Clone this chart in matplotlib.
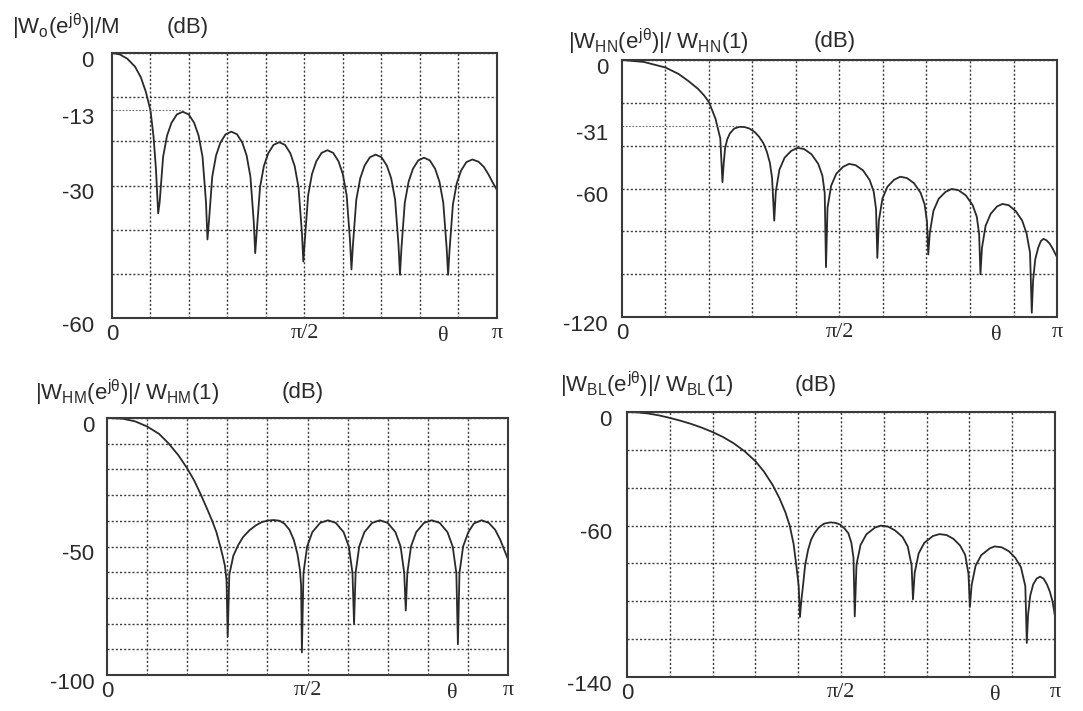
import numpy as np
import matplotlib
matplotlib.use('Agg')
import matplotlib.pyplot as plt
from matplotlib.transforms import ScaledTranslation

plt.rcParams['font.family'] = ['Liberation Sans', 'DejaVu Sans']
plt.rcParams['mathtext.fontset'] = 'custom'
plt.rcParams['mathtext.rm'] = 'Liberation Sans'
plt.rcParams['mathtext.it'] = 'Liberation Sans'

# theta in units of pi, magnitude in dB
rect_theta = [0, 0.02, 0.04, 0.06, 0.075, 0.088, 0.1, 0.108, 0.114, 0.12,
              0.1238, 0.1328, 0.143, 0.1546, 0.1686, 0.184, 0.1994, 0.2134, 0.225, 0.2352, 0.2442, 0.248,
              0.2517, 0.2604, 0.2703, 0.2815, 0.2951, 0.310, 0.3249, 0.3385, 0.3497, 0.3596, 0.3683, 0.372,
              0.3758, 0.3845, 0.3945, 0.4058, 0.4195, 0.4345, 0.4495, 0.4633, 0.4745, 0.4845, 0.4933, 0.497,
              0.5008, 0.5095, 0.5195, 0.5308, 0.5445, 0.5595, 0.5745, 0.5883, 0.5995, 0.6095, 0.6183, 0.622,
              0.6258, 0.6346, 0.6447, 0.656, 0.6699, 0.685, 0.7001, 0.714, 0.7253, 0.7354, 0.7442, 0.748,
              0.7518, 0.7605, 0.7705, 0.7818, 0.7955, 0.8105, 0.8255, 0.8393, 0.8505, 0.8605, 0.8693, 0.873,
              0.8768, 0.8855, 0.8955, 0.9068, 0.9205, 0.936, 0.952, 0.966, 0.978, 0.99, 1.0]
rect_db = [0, -0.3, -1.3, -3.1, -5.5, -8.8, -13.0, -19.0, -26.0, -36.3,
           -33.8, -23.5, -18.7, -15.8, -13.9, -13.3, -13.9, -15.8, -18.7, -23.5, -33.8, -42.2,
           -38.3, -28.0, -23.2, -20.3, -18.4, -17.8, -18.4, -20.3, -23.2, -28.0, -38.3, -45.3,
           -40.7, -30.4, -25.6, -22.7, -20.8, -20.2, -20.8, -22.7, -25.6, -30.4, -40.7, -47.2,
           -42.5, -32.2, -27.4, -24.5, -22.6, -22.0, -22.6, -24.5, -27.4, -32.2, -42.5, -49.0,
           -43.5, -33.2, -28.4, -25.5, -23.6, -23.0, -23.6, -25.5, -28.4, -33.2, -43.5, -50.2,
           -44.2, -33.9, -29.1, -26.2, -24.3, -23.7, -24.3, -26.2, -29.1, -33.9, -44.2, -50.2,
           -44.6, -34.3, -29.5, -26.6, -24.7, -24.1, -24.6, -25.8, -27.5, -29.5, -31.0]

hann_theta = [0, 0.05, 0.1, 0.13, 0.152, 0.175, 0.189, 0.2, 0.215, 0.226, 0.231,
              0.234, 0.237, 0.242, 0.248, 0.258, 0.270, 0.282, 0.293, 0.305, 0.315, 0.325, 0.333, 0.340, 0.345, 0.350,
              0.3536, 0.3619, 0.3738, 0.3893, 0.4036, 0.419, 0.4357, 0.4512, 0.4607, 0.466, 0.469,
              0.4725, 0.4808, 0.4926, 0.508, 0.522, 0.537, 0.554, 0.5693, 0.5787, 0.584, 0.587,
              0.5905, 0.5987, 0.6104, 0.6256, 0.6397, 0.6549, 0.6712, 0.6865, 0.6958, 0.7011, 0.704,
              0.7076, 0.716, 0.728, 0.7436, 0.758, 0.7736, 0.7904, 0.806, 0.8156, 0.821, 0.824,
              0.8275, 0.8358, 0.8476, 0.862, 0.8745, 0.889, 0.905, 0.920, 0.930, 0.938, 0.942,
              0.945, 0.950, 0.957, 0.963, 0.969, 0.976, 0.983, 0.990, 0.996, 1.0]
hann_db = [0, -0.9, -3.5, -6.5, -9.7, -13.5, -16.6, -19.7, -27.4, -36.6, -57.0,
           -48, -41.2, -37, -34.3, -32, -31.2, -31.3, -32.0, -33.6, -35.8, -38.8, -42.8, -48, -55, -75,
           -61.5, -51.2, -45.6, -42.4, -41.0, -41.6, -44.0, -48.5, -54, -62, -96.7,
           -69, -58.7, -53.1, -49.9, -48.5, -49.1, -51.5, -56, -61.5, -69.5, -92.4,
           -75, -64.7, -59.1, -55.9, -54.5, -55.1, -57.5, -62, -67.5, -75.5, -90.8,
           -80.7, -70.4, -64.8, -61.6, -60.2, -60.8, -63.2, -67.7, -73.2, -81.2, -100,
           -87.7, -77.4, -71.8, -68.4, -67.2, -67.8, -70.5, -75, -81, -90, -118,
           -103, -93, -87.5, -84.5, -83.5, -84.2, -85.7, -88, -90.5, -92]

hamm_theta = [0, 0.04, 0.07, 0.1, 0.13, 0.153, 0.178, 0.2, 0.218, 0.234, 0.25, 0.262, 0.273, 0.282, 0.289, 0.294, 0.298, 0.301,
              0.305, 0.315, 0.327, 0.339, 0.355, 0.371, 0.386, 0.401, 0.416, 0.431, 0.443, 0.455, 0.466, 0.475, 0.481, 0.484, 0.486,
              0.4899, 0.499, 0.512, 0.5315, 0.551, 0.5705, 0.590, 0.603, 0.6121, 0.616,
              0.6199, 0.6289, 0.6418, 0.6612, 0.6805, 0.6999, 0.7192, 0.7321, 0.7411, 0.745,
              0.7489, 0.758, 0.771, 0.7905, 0.810, 0.8295, 0.849, 0.862, 0.8711, 0.875,
              0.8789, 0.888, 0.901, 0.915, 0.934, 0.952, 0.968, 0.981, 0.991, 1.0]
hamm_db = [0, -0.3, -1.3, -3.3, -6.2, -9.8, -14.5, -19.6, -24.5, -29.8, -35.5, -39.9, -44.5, -49.7, -54, -57.5, -63, -85,
           -61, -53.6, -49.5, -46.4, -43.7, -41.8, -40.5, -39.9, -39.7, -40.0, -41.2, -43.5, -47.5, -53, -59, -65, -91.2,
           -60.3, -50.0, -44.4, -40.8, -39.8, -40.8, -44.4, -50.0, -60.3, -80.1,
           -60.3, -50.0, -44.4, -40.8, -39.8, -40.8, -44.4, -50.0, -60.3, -74.9,
           -60.3, -50.0, -44.4, -40.8, -39.8, -40.8, -44.4, -50.0, -60.3, -88,
           -60.3, -50.0, -44.4, -41.0, -39.8, -40.8, -43.5, -47.5, -51.5, -55]

black_theta = [0, 0.025, 0.05, 0.075, 0.1, 0.125, 0.15, 0.175, 0.2, 0.225, 0.249, 0.275, 0.3, 0.32, 0.34, 0.356, 0.37, 0.38, 0.389, 0.396, 0.401, 0.404,
               0.407, 0.411, 0.416, 0.423, 0.43, 0.438, 0.448, 0.46, 0.475, 0.488, 0.498, 0.508, 0.517, 0.524, 0.529, 0.532,
               0.5361, 0.5456, 0.5592, 0.5796, 0.5932, 0.6095, 0.6259, 0.6436, 0.6558, 0.6648, 0.668,
               0.672, 0.6813, 0.6946, 0.7146, 0.73, 0.7466, 0.7625, 0.778, 0.790, 0.7977, 0.801,
               0.805, 0.8143, 0.8276, 0.8476, 0.859, 0.8756, 0.8918, 0.907, 0.9203, 0.9305, 0.934,
               0.937, 0.942, 0.949, 0.957, 0.965, 0.973, 0.981, 0.988, 0.994, 1.0]
black_db = [0, -0.2, -0.8, -1.8, -3.1, -4.6, -6.3, -8.3, -10.6, -13.3, -16.5, -20.8, -26.0, -31.5, -38.5, -45.5, -53.0, -60, -69.6, -82, -92, -108.3,
            -100, -92, -81, -72.8, -67.5, -64, -61, -59, -58.3, -58.6, -59.5, -61.5, -64, -69, -77, -108,
            -80.5, -70.2, -64.6, -61.0, -60.0, -60.5, -62.5, -66, -71, -81, -99,
            -85, -74.7, -69.1, -65.5, -64.5, -65, -67, -70.5, -75.5, -85.5, -103,
            -91.5, -81.2, -75.6, -72.0, -71.0, -71.5, -73.5, -77, -82, -92, -122,
            -107, -97, -91, -88, -87, -88, -91, -95, -100, -108]

rect_ticks = [0, -13, -30, -60]
hann_ticks = [0, -31, -60, -120]
hamm_ticks = [0, -50, -100]
black_ticks = [0, -60, -140]

x_ticks = [0, 0.5, 1.0]
x_labels = ['0', 'π/2', 'π']

titles = [r'$|W_{o}(e^{j\theta})|/M$',
          r'$|W_{HN}(e^{j\theta})|/\ W_{HN}(1)$',
          r'$|W_{HM}(e^{j\theta})|/\ W_{HM}(1)$',
          r'$|W_{BL}(e^{j\theta})|/\ W_{BL}(1)$']

fig = plt.figure(figsize=(10.83, 7.11), dpi=100)

# (data, ticks, grid step, ref line, axes rect, title pos, (dB) pos, tick pad)
panels = [
    (rect_theta, rect_db, rect_ticks, 10, -13, [0.1034, 0.5527, 0.3555, 0.3727], (0.011, 0.962), (0.154, 0.962), 13),
    (hann_theta, hann_db, hann_ticks, 20, -31, [0.5743, 0.5541, 0.4017, 0.3615], (0.5245, 0.941), (0.751, 0.941), 10),
    (hamm_theta, hamm_db, hamm_ticks, 10, None, [0.0988, 0.0506, 0.3703, 0.3615], (0.032, 0.4473), (0.260, 0.4473), 9),
    (black_theta, black_db, black_ticks, 20, None, [0.579, 0.0478, 0.3952, 0.3727], (0.517, 0.4585), (0.734, 0.4585), 11),
]

ink = '#2a2a2a'
down = ScaledTranslation(0, -4 / 72, fig.dpi_scale_trans)

for (th, db, ticks, step, ref, rect, tpos, dbpos, pad), title in zip(panels, titles):
    th = np.array(th)
    db = np.array(db)
    ax = fig.add_axes(rect)
    ax.plot(th, db, color=ink, lw=1.3)

    ymin = ticks[-1]
    ax.set_xlim(0, 1)
    ax.set_ylim(ymin, 0)

    ax.set_yticks(ticks)
    ax.set_yticklabels([str(t) for t in ticks])
    ax.set_yticks(np.arange(ymin, 1, step), minor=True)
    ax.set_xticks(x_ticks)
    ax.set_xticklabels(x_labels)
    ax.set_xticks(np.arange(0.1, 1.0, 0.1), minor=True)
    ax.xaxis.remove_overlapping_locs = False
    ax.yaxis.remove_overlapping_locs = False

    ax.grid(which='minor', color='#3c3c3c', ls=(0, (1.5, 1.5)), lw=1.0)
    ax.tick_params(which='both', length=0)
    ax.tick_params(axis='y', labelsize=16, pad=pad, labelcolor=ink)
    ax.tick_params(axis='x', labelsize=16, pad=4, labelcolor=ink)
    for lbl in ax.get_yticklabels():
        lbl.set_transform(lbl.get_transform() + down)
    for lbl in ax.get_xticklabels()[1:]:
        lbl.set_family('Liberation Serif')

    for s in ax.spines.values():
        s.set_color('#3a3a3a')
        s.set_linewidth(1.5)

    if ref is not None:
        # dotted marker line from the axis to the first sidelobe peak
        rise = np.argmax(np.diff(db) > 0)
        k = rise + np.argmax(db[rise:])
        ax.hlines(ref, 0, th[k], colors='#666666', linestyles=(0, (1.5, 1.5)), lw=0.8)

    ax.text(0.86, -0.035, 'θ', transform=ax.transAxes, va='top', ha='center',
            fontsize=16, family='Liberation Serif', color=ink)

    fig.text(tpos[0], tpos[1], title, fontsize=16, va='center', color=ink)
    fig.text(dbpos[0], dbpos[1], '(dB)', fontsize=16, va='center', color=ink)

fig.savefig('out.png', dpi=100, facecolor='white')
